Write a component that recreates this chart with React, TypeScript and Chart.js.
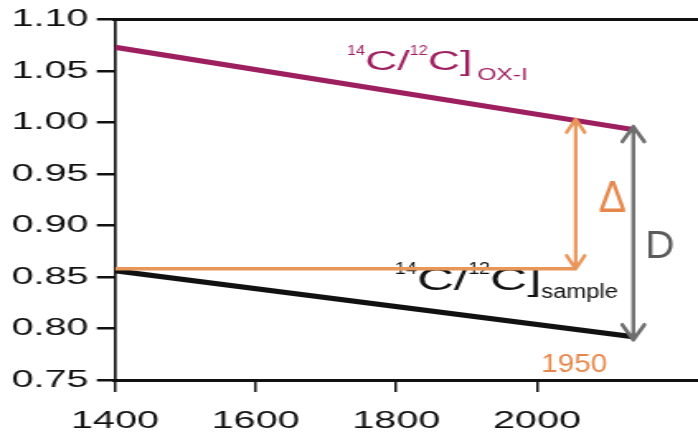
import React, { useEffect, useRef } from 'react';
import { Chart, registerables } from 'chart.js';

Chart.register(...registerables);

// ---- data ----
const lineYears = [1400, 2137];
const oxValues = [1.073, 0.993];
const sampleValues = [0.856, 0.792];
const refYears = [1400, 2055];
const refValues = [0.858, 0.858];

const xTickValues = [1400, 1600, 1800, 2000];
const yTickValues = [0.75, 0.8, 0.85, 0.9, 0.95, 1.0, 1.05, 1.1];
const xMin = 1400;
const xMax = 2229;
const yMin = 0.75;
const yMax = 1.1;

// double arrows: [x, from value, to value]
const deltaArrow = [2055, 0.858, 1.003];
const dArrow = [2137, 0.789, 0.996];

// label anchors (data units)
const oxLabelAt = [1730, 1.0505];
const sampleLabelAt = [1798, 0.8371];
const deltaLabelAt = [2107, 0.9128];
const dLabelAt = [2154, 0.8682];
const yearLabelAt = [2053, 0.7576];
const yearLabelText = '1950';

// ---- style ----
const CANVAS_W = 423;
const OUT_W = 698;
const OUT_H = 439;
const S = OUT_W / CANVAS_W;
const PURPLE = '#9E1F5F';
const ORANGE = '#E9965A';
const ORANGE_TXT = '#E5874A';
const GRAY = '#6E6E6E';
const BLACK = '#111111';
const FAMILY = '"Liberation Sans", Arial, sans-serif';

type Part = { text: string; size: number; sx: number; dy: number; gap?: number };

function drawRun(ctx: CanvasRenderingContext2D, parts: Part[], x0: number, yBase: number, color: string) {
  let x = x0;
  for (const p of parts) {
    ctx.save();
    ctx.font = `${p.size}px ${FAMILY}`;
    ctx.fillStyle = color;
    ctx.textBaseline = 'alphabetic';
    ctx.textAlign = 'left';
    const gx = p.gap || 0;
    ctx.translate(x + gx, yBase + p.dy);
    ctx.scale(p.sx, 1);
    ctx.fillText(p.text, 0, 0);
    const w = ctx.measureText(p.text).width;
    ctx.restore();
    x += gx + w * p.sx;
  }
}

function drawSingle(ctx: CanvasRenderingContext2D, text: string, x: number, y: number, size: number, sx: number, color: string, align: CanvasTextAlign) {
  ctx.save();
  ctx.font = `${size}px ${FAMILY}`;
  ctx.fillStyle = color;
  ctx.textBaseline = 'alphabetic';
  ctx.textAlign = align;
  ctx.translate(x, y);
  ctx.scale(sx, 1);
  ctx.fillText(text, 0, 0);
  ctx.restore();
}

const annotationPlugin = {
  id: 'annotations',
  beforeDatasetsDraw(chart: any) {
    const ctx: CanvasRenderingContext2D = chart.ctx;
    const xs = chart.scales.x;
    const ys = chart.scales.y;
    drawRun(
      ctx,
      [
        { text: '14', size: 14, sx: 0.7, dy: -15 },
        { text: 'C/', size: 27, sx: 1, dy: 0 },
        { text: '12', size: 14, sx: 0.7, dy: -15 },
        { text: 'C]', size: 27, sx: 1, dy: 0 },
        { text: 'OX-I', size: 17, sx: 0.88, dy: 10, gap: 3 },
      ],
      xs.getPixelForValue(oxLabelAt[0]),
      ys.getPixelForValue(oxLabelAt[1]),
      PURPLE
    );
    drawRun(
      ctx,
      [
        { text: '14', size: 16, sx: 0.75, dy: -16 },
        { text: 'C/', size: 31, sx: 1, dy: 0 },
        { text: '12', size: 16, sx: 0.75, dy: -16 },
        { text: 'C]', size: 31, sx: 1, dy: 0 },
        { text: 'sample', size: 20, sx: 0.72, dy: 8, gap: 0 },
      ],
      xs.getPixelForValue(sampleLabelAt[0]),
      ys.getPixelForValue(sampleLabelAt[1]),
      BLACK
    );
    drawSingle(ctx, 'Δ', xs.getPixelForValue(deltaLabelAt[0]), ys.getPixelForValue(deltaLabelAt[1]), 44, 0.57, ORANGE_TXT, 'center');
    drawSingle(ctx, 'D', xs.getPixelForValue(dLabelAt[0]), ys.getPixelForValue(dLabelAt[1]), 39, 0.63, '#5A5A5A', 'left');
    drawSingle(ctx, yearLabelText, xs.getPixelForValue(yearLabelAt[0]), ys.getPixelForValue(yearLabelAt[1]), 26, 0.69, ORANGE_TXT, 'center');
  },
  afterDatasetsDraw(chart: any) {
    const ctx: CanvasRenderingContext2D = chart.ctx;
    const xs = chart.scales.x;
    const ys = chart.scales.y;
    const arrows: [number[], string, number, number, number][] = [
      [deltaArrow, ORANGE, 3.6, 9, 13],
      [dArrow, GRAY, 3.8, 11, 15],
    ];
    ctx.save();
    ctx.scale(1 / S, 1);
    for (const [a, color, lw, hw, hh] of arrows) {
      const X = xs.getPixelForValue(a[0]) * S;
      const yB = ys.getPixelForValue(a[1]);
      const yT = ys.getPixelForValue(a[2]);
      ctx.strokeStyle = color;
      ctx.lineWidth = lw;
      ctx.lineCap = 'round';
      ctx.lineJoin = 'round';
      ctx.beginPath();
      ctx.moveTo(X, yB);
      ctx.lineTo(X, yT);
      ctx.moveTo(X - hw, yT + hh);
      ctx.lineTo(X, yT);
      ctx.lineTo(X + hw, yT + hh);
      ctx.moveTo(X - hw, yB - hh);
      ctx.lineTo(X, yB);
      ctx.lineTo(X + hw, yB - hh);
      ctx.stroke();
    }
    ctx.restore();
  },
};

export default function App() {
  const ref = useRef<HTMLCanvasElement | null>(null);

  useEffect(() => {
    const canvas = ref.current;
    if (!canvas) return;
    const tickFont = { family: 'Liberation Sans, Arial, sans-serif', size: 24 };
    const chart = new Chart(canvas, {
      type: 'line',
      data: {
        datasets: [
          {
            data: refYears.map((x, i) => ({ x, y: refValues[i] })),
            borderColor: ORANGE,
            borderWidth: 3.6,
          },
          {
            data: lineYears.map((x, i) => ({ x, y: oxValues[i] })),
            borderColor: PURPLE,
            borderWidth: 5,
          },
          {
            data: lineYears.map((x, i) => ({ x, y: sampleValues[i] })),
            borderColor: BLACK,
            borderWidth: 5,
          },
        ],
      },
      options: {
        responsive: false,
        animation: false,
        devicePixelRatio: 1,
        layout: { padding: { top: 19, left: 0, right: 0, bottom: 0 } },
        plugins: { legend: { display: false }, tooltip: { enabled: false }, title: { display: false } },
        elements: {
          point: { radius: 0, hoverRadius: 0 },
          line: { tension: 0, borderCapStyle: 'butt', fill: false },
        },
        scales: {
          x: {
            type: 'linear',
            position: 'bottom',
            min: xMin,
            max: xMax,
            afterBuildTicks: (s: any) => {
              s.ticks = xTickValues.map((v) => ({ value: v }));
            },
            afterFit: (s: any) => {
              s.height = OUT_H - 380;
            },
            border: { display: true, color: BLACK, width: 3 },
            grid: { display: true, drawOnChartArea: false, drawTicks: true, tickLength: 12, lineWidth: 1.5, color: BLACK },
            ticks: {
              font: tickFont,
              color: BLACK,
              padding: 15,
              maxRotation: 0,
              autoSkip: false,
              includeBounds: false,
              callback: (v: any) => String(v),
            },
          },
          x2: {
            type: 'linear',
            position: 'top',
            min: xMin,
            max: xMax,
            afterFit: (s: any) => {
              s.height = 0;
            },
            border: { display: true, color: BLACK, width: 3 },
            grid: { display: false },
            ticks: { display: false },
          },
          y: {
            type: 'linear',
            min: yMin,
            max: yMax,
            afterBuildTicks: (s: any) => {
              s.ticks = yTickValues.map((v) => ({ value: v }));
            },
            afterFit: (s: any) => {
              s.width = 115 / S;
            },
            border: { display: true, color: BLACK, width: 1.65 },
            grid: { display: true, drawOnChartArea: false, drawTicks: true, tickLength: 11, lineWidth: 2.5, color: BLACK },
            ticks: {
              font: tickFont,
              color: BLACK,
              padding: 5,
              includeBounds: false,
              callback: (v: any) => Number(v).toFixed(2),
            },
          },
        },
      } as any,
      plugins: [annotationPlugin],
    });
    return () => chart.destroy();
  }, []);

  return (
    <div style={{ position: 'absolute', left: 0, top: 0, width: OUT_W, height: OUT_H, background: '#fff' }}>
      <canvas
        ref={ref}
        width={CANVAS_W}
        height={OUT_H}
        style={{ width: OUT_W + 'px', height: OUT_H + 'px', display: 'block' }}
      />
    </div>
  );
}
